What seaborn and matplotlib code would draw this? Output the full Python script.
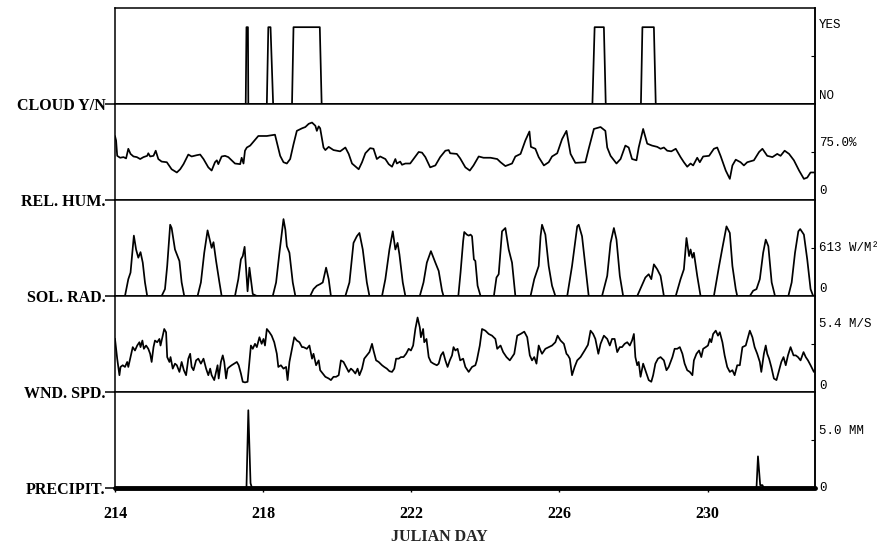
import numpy as np
import matplotlib
matplotlib.use("Agg")
import matplotlib.pyplot as plt
import seaborn as sns

# time axis: days elapsed since the first Julian day shown
START_DAY = 214
END_DAY = 232.9
day_ticks = [214, 218, 222, 226, 230]

# cloud cover, yes (1) / no (0)
cloud_t = [0.0, 3.53, 3.55, 3.59, 3.60, 4.10, 4.14, 4.20, 4.27, 4.78, 4.82,
           5.53, 5.58, 12.89, 12.95, 13.20, 13.25, 14.20, 14.24, 14.55, 14.60, 18.9]
cloud_v = [0, 0, 1, 1, 0, 0, 1, 1, 0, 0, 1,
           1, 0, 0, 1, 1, 0, 0, 1, 1, 0, 0]

# relative humidity (%)
rh_t = [0.00, 0.03, 0.06, 0.14, 0.23, 0.30, 0.36, 0.42, 0.50, 0.59,
        0.68, 0.77, 0.87, 0.90, 0.95, 1.04, 1.10, 1.17, 1.26, 1.40,
        1.53, 1.67, 1.76, 1.85, 1.98, 2.07, 2.21, 2.30, 2.39, 2.52,
        2.61, 2.70, 2.75, 2.79, 2.88, 2.97, 3.06, 3.15, 3.24, 3.38,
        3.42, 3.47, 3.51, 3.56, 3.65, 3.87, 4.10, 4.32, 4.37, 4.46,
        4.55, 4.64, 4.73, 4.82, 4.91, 5.05, 5.14, 5.23, 5.32, 5.41,
        5.45, 5.50, 5.54, 5.63, 5.68, 5.77, 5.90, 6.08, 6.22, 6.31,
        6.40, 6.58, 6.67, 6.76, 6.89, 6.98, 7.07, 7.16, 7.30, 7.39,
        7.48, 7.57, 7.61, 7.70, 7.75, 7.84, 7.97, 8.06, 8.20, 8.29,
        8.38, 8.51, 8.65, 8.78, 8.92, 9.01, 9.05, 9.23, 9.32, 9.46,
        9.58, 9.68, 9.82, 9.95, 10.14, 10.32, 10.41, 10.54, 10.72, 10.81,
        10.95, 11.08, 11.19, 11.23, 11.35, 11.44, 11.58, 11.71, 11.80, 11.94,
        12.07, 12.19, 12.30, 12.43, 12.70, 12.79, 12.93, 13.11, 13.24, 13.29,
        13.38, 13.54, 13.65, 13.78, 13.87, 13.96, 14.08, 14.14, 14.26, 14.37,
        14.50, 14.64, 14.73, 14.82, 14.91, 15.02, 15.14, 15.27, 15.36, 15.45,
        15.54, 15.61, 15.72, 15.79, 15.88, 16.04, 16.17, 16.26, 16.35, 16.49,
        16.60, 16.67, 16.76, 16.89, 16.98, 17.07, 17.25, 17.39, 17.48, 17.61,
        17.75, 17.88, 17.97, 18.08, 18.20, 18.33, 18.47, 18.60, 18.69, 18.78,
        18.92]
rh_v = [100, 93, 69, 66, 67, 65, 80, 72, 68, 67,
        64, 67, 69, 73, 68, 69, 77, 64, 60, 59,
        48, 43, 48, 56, 71, 68, 70, 71, 64, 51,
        46, 59, 62, 56, 68, 69, 67, 62, 57, 56,
        66, 57, 77, 82, 85, 100, 100, 102, 90, 69,
        59, 57, 64, 87, 108, 112, 114, 119, 121, 116,
        108, 115, 112, 82, 78, 83, 78, 76, 82, 72,
        57, 48, 59, 73, 81, 80, 64, 68, 64, 56,
        52, 64, 57, 60, 55, 57, 57, 64, 75, 74,
        67, 51, 54, 67, 77, 78, 73, 72, 65, 51,
        46, 54, 68, 66, 66, 64, 59, 53, 57, 68,
        72, 93, 107, 83, 80, 67, 54, 59, 68, 73,
        95, 108, 72, 58, 59, 80, 111, 114, 108, 82,
        69, 57, 64, 85, 82, 64, 62, 82, 111, 88,
        85, 83, 80, 82, 77, 76, 80, 67, 59, 52,
        57, 54, 66, 59, 68, 69, 80, 82, 69, 46,
        33, 54, 63, 59, 54, 59, 62, 75, 80, 69,
        67, 72, 69, 77, 72, 62, 46, 33, 35, 43,
        43]

# solar radiation (W/m2), one hump per day
sr_t = [0.00, 0.27, 0.36, 0.42, 0.51, 0.57, 0.63, 0.69, 0.75, 0.81, 0.87,
        1.26, 1.35, 1.41, 1.49, 1.53, 1.62, 1.74, 1.80, 1.87,
        2.23, 2.32, 2.41, 2.50, 2.57, 2.61, 2.66, 2.73, 2.82, 2.88,
        3.24, 3.33, 3.40, 3.45, 3.50, 3.54, 3.58, 3.63, 3.67, 3.72, 3.83,
        4.26, 4.35, 4.44, 4.55, 4.60, 4.64, 4.71, 4.80, 4.87,
        5.27, 5.36, 5.45, 5.54, 5.61, 5.70, 5.77, 5.83,
        6.22, 6.33, 6.44, 6.53, 6.60, 6.69, 6.80, 6.87,
        7.21, 7.30, 7.41, 7.50, 7.57, 7.63, 7.68, 7.77, 7.84,
        8.23, 8.33, 8.42, 8.53, 8.65, 8.74, 8.83, 8.87,
        9.27, 9.33, 9.40, 9.43, 9.50, 9.55, 9.60, 9.64, 9.69, 9.73, 9.79, 9.87,
        10.23, 10.30, 10.36, 10.45, 10.54, 10.63, 10.72, 10.81,
        11.22, 11.32, 11.44, 11.49, 11.53, 11.62, 11.71, 11.80, 11.89,
        12.21, 12.34, 12.48, 12.52, 12.61, 12.70, 12.79,
        13.15, 13.29, 13.38, 13.47, 13.54, 13.63, 13.72,
        14.10, 14.32, 14.41, 14.48, 14.55, 14.64, 14.73, 14.82,
        15.14, 15.27, 15.36, 15.43, 15.50, 15.54, 15.59, 15.63, 15.72, 15.81,
        16.17, 16.31, 16.40, 16.51, 16.60, 16.67, 16.76, 16.80,
        17.14, 17.23, 17.32, 17.41, 17.50, 17.57, 17.64, 17.73, 17.82,
        18.18, 18.27, 18.36, 18.45, 18.50, 18.60, 18.69, 18.78, 18.85,
        18.90]
sr_v = [0, 0, 215, 299, 771, 594, 489, 560, 426, 173, 0,
        0, 88, 383, 910, 868, 594, 447, 173, 0,
        0, 173, 552, 838, 699, 615, 687, 447, 173, 0,
        0, 215, 468, 510, 628, 341, 60, 362, 215, 25, 0,
        0, 173, 552, 982, 847, 636, 552, 173, 0,
        0, 88, 131, 152, 173, 362, 215, 0,
        0, 173, 678, 763, 805, 594, 173, 0,
        0, 215, 594, 826, 594, 678, 531, 173, 0,
        0, 173, 426, 573, 426, 320, 67, 0,
        0, 300, 700, 817, 784, 771, 784, 763, 468, 447, 131, 0,
        0, 236, 278, 826, 868, 594, 426, 0,
        0, 215, 383, 763, 910, 784, 383, 131, 0,
        0, 383, 889, 910, 763, 383, 0,
        0, 257, 678, 868, 720, 257, 0,
        0, 236, 278, 215, 404, 341, 257, 0,
        0, 215, 341, 741, 510, 594, 489, 552, 257, 0,
        0, 383, 615, 889, 805, 383, 88, 0,
        0, 67, 88, 215, 552, 720, 636, 173, 0,
        0, 173, 552, 826, 855, 784, 468, 88, 0,
        0]

# wind speed (m/s)
wind_t = [0.00, 0.03, 0.06, 0.12, 0.15, 0.21, 0.27, 0.33, 0.36, 0.41,
          0.48, 0.54, 0.60, 0.66, 0.69, 0.74, 0.78, 0.84, 0.90, 0.95,
          0.99, 1.04, 1.08, 1.14, 1.20, 1.23, 1.29, 1.33, 1.38, 1.41,
          1.47, 1.50, 1.56, 1.62, 1.67, 1.74, 1.80, 1.86, 1.92, 1.98,
          2.03, 2.07, 2.12, 2.19, 2.25, 2.32, 2.39, 2.46, 2.52, 2.57,
          2.61, 2.68, 2.73, 2.77, 2.80, 2.86, 2.91, 2.95, 3.00, 3.04,
          3.09, 3.15, 3.22, 3.29, 3.34, 3.40, 3.45, 3.51, 3.58, 3.63,
          3.67, 3.72, 3.78, 3.83, 3.90, 3.96, 4.01, 4.05, 4.10, 4.17,
          4.23, 4.30, 4.37, 4.41, 4.48, 4.55, 4.62, 4.66, 4.71, 4.77,
          4.84, 4.91, 4.98, 5.05, 5.09, 5.18, 5.25, 5.32, 5.36, 5.43,
          5.50, 5.54, 5.61, 5.68, 5.77, 5.83, 5.90, 5.97, 6.04, 6.10,
          6.17, 6.24, 6.31, 6.37, 6.42, 6.49, 6.55, 6.60, 6.67, 6.73,
          6.80, 6.87, 6.94, 6.98, 7.05, 7.12, 7.21, 7.27, 7.34, 7.41,
          7.48, 7.54, 7.59, 7.66, 7.72, 7.79, 7.86, 7.93, 7.99, 8.05,
          8.11, 8.17, 8.23, 8.26, 8.32, 8.35, 8.41, 8.47, 8.53, 8.60,
          8.69, 8.74, 8.80, 8.86, 8.92, 8.98, 9.04, 9.10, 9.14, 9.19,
          9.25, 9.32, 9.40, 9.46, 9.55, 9.64, 9.73, 9.77, 9.85, 9.91,
          10.00, 10.09, 10.18, 10.27, 10.32, 10.41, 10.48, 10.57, 10.66, 10.72,
          10.78, 10.86, 10.95, 11.05, 11.13, 11.20, 11.26, 11.32, 11.38, 11.44,
          11.49, 11.53, 11.62, 11.71, 11.80, 11.89, 11.95, 12.03, 12.12, 12.19,
          12.23, 12.28, 12.34, 12.41, 12.48, 12.57, 12.68, 12.77, 12.84, 12.91,
          12.97, 13.05, 13.11, 13.20, 13.29, 13.36, 13.42, 13.49, 13.56, 13.63,
          13.69, 13.76, 13.83, 13.90, 13.96, 14.01, 14.05, 14.10, 14.14, 14.19,
          14.26, 14.32, 14.41, 14.48, 14.53, 14.59, 14.66, 14.73, 14.82, 14.89,
          14.95, 15.05, 15.11, 15.18, 15.25, 15.32, 15.38, 15.45, 15.52, 15.59,
          15.63, 15.70, 15.77, 15.83, 15.88, 15.95, 16.01, 16.06, 16.10, 16.15,
          16.22, 16.28, 16.33, 16.40, 16.46, 16.53, 16.60, 16.67, 16.73, 16.80,
          16.87, 16.94, 17.03, 17.09, 17.14, 17.21, 17.27, 17.34, 17.41, 17.45,
          17.52, 17.57, 17.61, 17.66, 17.72, 17.79, 17.86, 17.93, 17.99, 18.05,
          18.11, 18.17, 18.24, 18.32, 18.38, 18.44, 18.51, 18.59, 18.65, 18.71,
          18.78, 18.87, 18.94]
wind_v = [6.0, 4.86, 3.75, 1.89, 2.82, 3.01, 2.82, 3.38, 2.82, 3.75,
          5.05, 4.67, 5.23, 5.60, 5.05, 5.79, 4.86, 5.23, 4.86, 4.30,
          3.38, 5.05, 5.79, 5.60, 5.97, 5.23, 6.34, 7.09, 6.72, 3.93,
          3.38, 3.93, 2.63, 3.19, 3.01, 2.26, 3.38, 2.45, 1.89, 3.75,
          4.30, 2.82, 2.45, 3.56, 3.75, 3.19, 3.75, 2.63, 1.89, 2.63,
          1.89, 1.34, 2.26, 3.01, 1.52, 3.38, 4.12, 3.38, 1.52, 2.63,
          2.82, 3.01, 3.19, 3.38, 3.01, 2.08, 1.15, 1.08, 1.15, 3.38,
          5.23, 4.86, 5.42, 5.05, 6.16, 5.42, 5.97, 5.23, 7.09, 6.72,
          6.34, 5.60, 4.30, 2.82, 3.01, 2.63, 2.82, 1.34, 3.38, 4.67,
          6.16, 5.79, 5.60, 5.05, 5.05, 4.86, 5.23, 3.75, 4.30, 3.01,
          3.56, 2.45, 2.08, 1.71, 1.52, 1.34, 1.71, 1.71, 1.89, 3.56,
          3.38, 2.82, 2.26, 2.63, 2.45, 2.08, 2.63, 1.89, 2.63, 3.75,
          4.12, 4.49, 5.42, 4.67, 3.56, 3.38, 3.01, 2.82, 2.63, 2.34,
          2.26, 2.63, 3.75, 3.75, 3.93, 3.93, 4.30, 4.86, 4.67, 5.23,
          7.09, 8.38, 7.27, 6.16, 7.09, 5.60, 5.97, 3.93, 3.38, 3.19,
          3.01, 3.19, 4.12, 4.49, 3.56, 2.82, 3.56, 4.12, 5.05, 4.67,
          4.86, 3.56, 3.75, 2.82, 2.26, 2.82, 3.01, 3.56, 5.23, 7.09,
          6.90, 6.53, 6.34, 5.97, 4.86, 5.23, 4.49, 3.93, 3.56, 3.93,
          4.30, 6.34, 6.53, 6.79, 6.16, 4.12, 3.56, 3.93, 3.19, 5.23,
          4.67, 4.30, 4.86, 5.05, 5.23, 5.60, 6.34, 5.79, 5.42, 4.30,
          4.12, 3.75, 1.89, 2.82, 3.56, 3.93, 4.67, 5.31, 6.90, 6.53,
          5.97, 4.30, 5.42, 6.34, 5.97, 5.23, 5.97, 5.97, 4.49, 5.05,
          5.05, 5.42, 5.60, 5.23, 5.79, 6.53, 3.93, 3.01, 3.38, 1.71,
          3.19, 2.45, 1.34, 1.15, 1.89, 3.19, 3.75, 3.93, 3.56, 2.45,
          2.82, 3.93, 4.86, 4.86, 5.05, 4.30, 3.19, 2.45, 2.26, 1.89,
          3.56, 4.30, 4.67, 3.93, 4.86, 5.05, 5.23, 5.97, 5.60, 6.53,
          6.90, 6.34, 6.72, 5.60, 4.12, 2.82, 2.26, 2.45, 1.89, 3.01,
          3.01, 5.05, 5.23, 6.16, 6.90, 6.16, 5.05, 4.30, 3.38, 2.26,
          4.30, 5.23, 4.30, 3.75, 2.82, 1.52, 1.34, 2.45, 3.38, 3.93,
          3.01, 4.12, 5.05, 4.12, 4.12, 3.93, 3.56, 4.49, 3.93, 3.56,
          3.01, 2.26, 2.82]

# precipitation (mm)
precip_t = [0.0, 3.55, 3.60, 3.66, 3.70, 17.32, 17.36, 17.42, 17.48, 17.52, 18.9]
precip_v = [0, 0, 8.1, 0.5, 0, 0, 3.3, 0.3, 0.3, 0, 0]

left_names = ["CLOUD Y/N", "REL. HUM.", "SOL. RAD.", "WND. SPD.", "PRECIPIT."]
mid_values = [0.625, 75.0, 613, 5.4, 5.0]
right_top_labels = ["YES", "75.0%", "613 W/M²", "5.4 M/S", "5.0 MM"]
right_zero_labels = ["NO", "0", "0", "0", "0"]

series = [(cloud_t, cloud_v), (rh_t, rh_v), (sr_t, sr_v),
          (wind_t, wind_v), (precip_t, precip_v)]
top_label_pos = [0.82, 0.59, 0.50, 0.71, 0.59]
zero_label_pos = [0.08, 0.09, 0.07, 0.06, 0.0]

sns.set_style("white", {"axes.edgecolor": "black", "xtick.color": "black",
                        "ytick.color": "black", "text.color": "black"})
plt.rcParams["font.family"] = ["Liberation Serif", "DejaVu Serif"]

fig, axes = plt.subplots(5, 1, figsize=(8.79, 5.5), dpi=100, sharex=True)
fig.subplots_adjust(left=0.1308, right=0.9272, top=0.9855, bottom=0.1127, hspace=0)

for i, ax in enumerate(axes):
    t, v = series[i]
    x = START_DAY + np.array(t)
    sns.lineplot(x=x, y=v, ax=ax, color="black", linewidth=1.25,
                 estimator=None, sort=False)
    ax.set_xlim(START_DAY, END_DAY)
    ax.set_ylim(0, 2 * mid_values[i])
    ax.set_ylabel("")
    for sp in ax.spines.values():
        sp.set_linewidth(1.1)
        sp.set_color("black")

    # left: panel name with a dash at the baseline
    ax.set_yticks([0])
    ax.set_yticklabels([left_names[i]], fontfamily="Liberation Serif",
                       fontweight="bold", fontsize=11.5)
    ax.tick_params(axis="y", left=True, length=7, width=1.1, pad=0,
                   direction="out")

    # right: small inward tick at mid scale and typed scale labels
    sec = ax.secondary_yaxis("right")
    sec.set_yticks([mid_values[i]])
    sec.tick_params(direction="in", length=3, width=0.8, labelright=False)
    sec.spines["right"].set_linewidth(1.1)
    ax.text(1.006, top_label_pos[i], right_top_labels[i], transform=ax.transAxes,
            fontfamily="Liberation Mono", fontsize=9, va="center", ha="left")
    ax.text(1.006, zero_label_pos[i], right_zero_labels[i], transform=ax.transAxes,
            fontfamily="Liberation Mono", fontsize=9, va="center", ha="left")

    if i < 4:
        ax.tick_params(axis="x", bottom=False)

# thick, smudged baseline of the rain gauge trace
axes[-1].axhline(0, color="black", linewidth=3.5, clip_on=False)

bottom = axes[-1]
bottom.set_xticks(day_ticks)
bottom.set_xticklabels([str(d) for d in day_ticks], fontfamily="Liberation Serif",
                       fontweight="bold", fontsize=11.5)
bottom.tick_params(axis="x", bottom=True, length=3, width=1.0, direction="out", pad=10)
bottom.set_xlabel("JULIAN DAY", fontfamily="Liberation Serif", fontweight="bold",
                  fontsize=11.5)
bottom.xaxis.label.set_va("center")
bottom.xaxis.set_label_coords(0.464, -0.51)

fig.savefig("out.png", dpi=100, facecolor="white")
